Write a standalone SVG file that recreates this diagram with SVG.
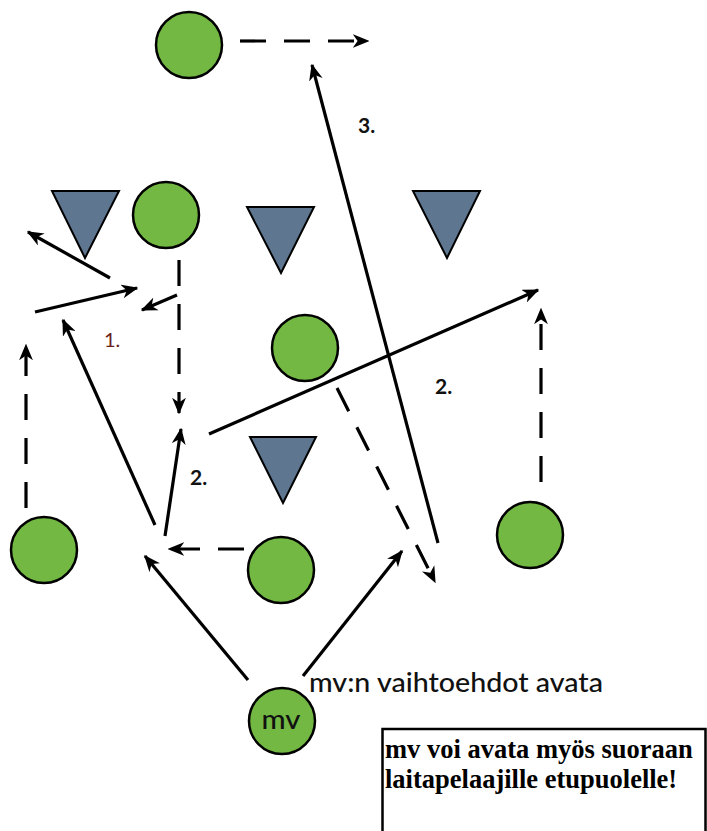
<svg xmlns="http://www.w3.org/2000/svg" width="707" height="831" viewBox="0 0 707 831">
<style>
.pl{fill:#72b843;stroke:#000;stroke-width:2.5}
.op{fill:#5f7690;stroke:#000;stroke-width:2}
.s{stroke:#000;stroke-width:3.2;fill:none;marker-end:url(#ah)}
.d{stroke:#000;stroke-width:3.2;fill:none;stroke-dasharray:26 18;marker-end:url(#ah)}
.lbl{font-family:Lato,"Open Sans",sans-serif;font-weight:bold;font-size:21px;fill:#111}
</style>
<defs>
<marker id="ah" viewBox="0 0 12 10" refX="11" refY="5" markerWidth="5.2" markerHeight="4.4" orient="auto" markerUnits="strokeWidth">
<path d="M0,0 L12,5 L0,10 L3.5,5 z" fill="#000"/>
</marker>
</defs>
<rect width="707" height="831" fill="#fff"/>
<g id="connectors">
<line class="d" x1="240" y1="41" x2="368" y2="41"/>
<line class="s" x1="438" y1="543" x2="312" y2="65"/>
<line class="s" x1="110" y1="278" x2="28" y2="232"/>
<line class="s" x1="35" y1="312" x2="137" y2="288"/>
<line class="s" x1="177" y1="295" x2="142" y2="310"/>
<line class="d" x1="179" y1="260" x2="179" y2="413"/>
<line class="d" x1="26" y1="508" x2="26" y2="345"/>
<line class="s" x1="155" y1="525" x2="63" y2="320"/>
<line class="s" x1="165" y1="536" x2="181" y2="429"/>
<line class="d" x1="244" y1="549" x2="169" y2="549"/>
<line class="s" x1="248" y1="680" x2="145" y2="556"/>
<line class="s" x1="303" y1="676" x2="402" y2="551"/>
<line class="s" x1="209" y1="434" x2="538" y2="290"/>
<line class="d" x1="337" y1="388" x2="435" y2="582"/>
<line class="d" x1="541" y1="482" x2="541" y2="309"/>
</g>
<g id="top"><circle class="pl" cx="189" cy="45" r="33"/></g>
<g id="op1"><polygon class="op" points="52,191 119,191 85,258"/></g>
<g id="p2"><circle class="pl" cx="166" cy="215" r="33"/></g>
<g id="op2"><polygon class="op" points="247,207 314,207 281,273"/></g>
<g id="op3"><polygon class="op" points="413,191 480,191 447,258"/></g>
<g id="p3"><circle class="pl" cx="305" cy="348" r="33"/></g>
<g id="op4"><polygon class="op" points="250,437 316,437 283,503"/></g>
<g id="p4"><circle class="pl" cx="44" cy="550" r="33"/></g>
<g id="p5"><circle class="pl" cx="281" cy="570" r="33"/></g>
<g id="p6"><circle class="pl" cx="530" cy="535" r="33"/></g>
<g id="mv"><circle class="pl" cx="282" cy="721" r="33"/>
<text x="281" y="729" text-anchor="middle" font-family="Lato,'Open Sans',sans-serif" font-size="27" font-weight="500" fill="#111" textLength="39" lengthAdjust="spacingAndGlyphs">mv</text></g>
<text class="lbl" x="358" y="133">3.</text>
<text x="104" y="347" font-family="Lato,'Open Sans',sans-serif" font-size="20" fill="#6b1f1a">1.</text>
<text class="lbl" x="190" y="485">2.</text>
<text class="lbl" x="435" y="394">2.</text>
<text x="309" y="692" font-family="Lato,'Open Sans',sans-serif" font-size="27" font-weight="500" fill="#111" textLength="294" lengthAdjust="spacingAndGlyphs">mv:n vaihtoehdot avata</text>
<g id="note">
<rect x="382.5" y="729" width="323" height="120" fill="#fff" stroke="#000" stroke-width="2.5"/>
<text font-family="'Liberation Serif',serif" font-weight="bold" font-size="26.5" fill="#000">
<tspan x="385" y="758">mv voi avata myös suoraan</tspan>
<tspan x="385" y="788">laitapelaajille etupuolelle!</tspan>
</text>
</g>
</svg>
